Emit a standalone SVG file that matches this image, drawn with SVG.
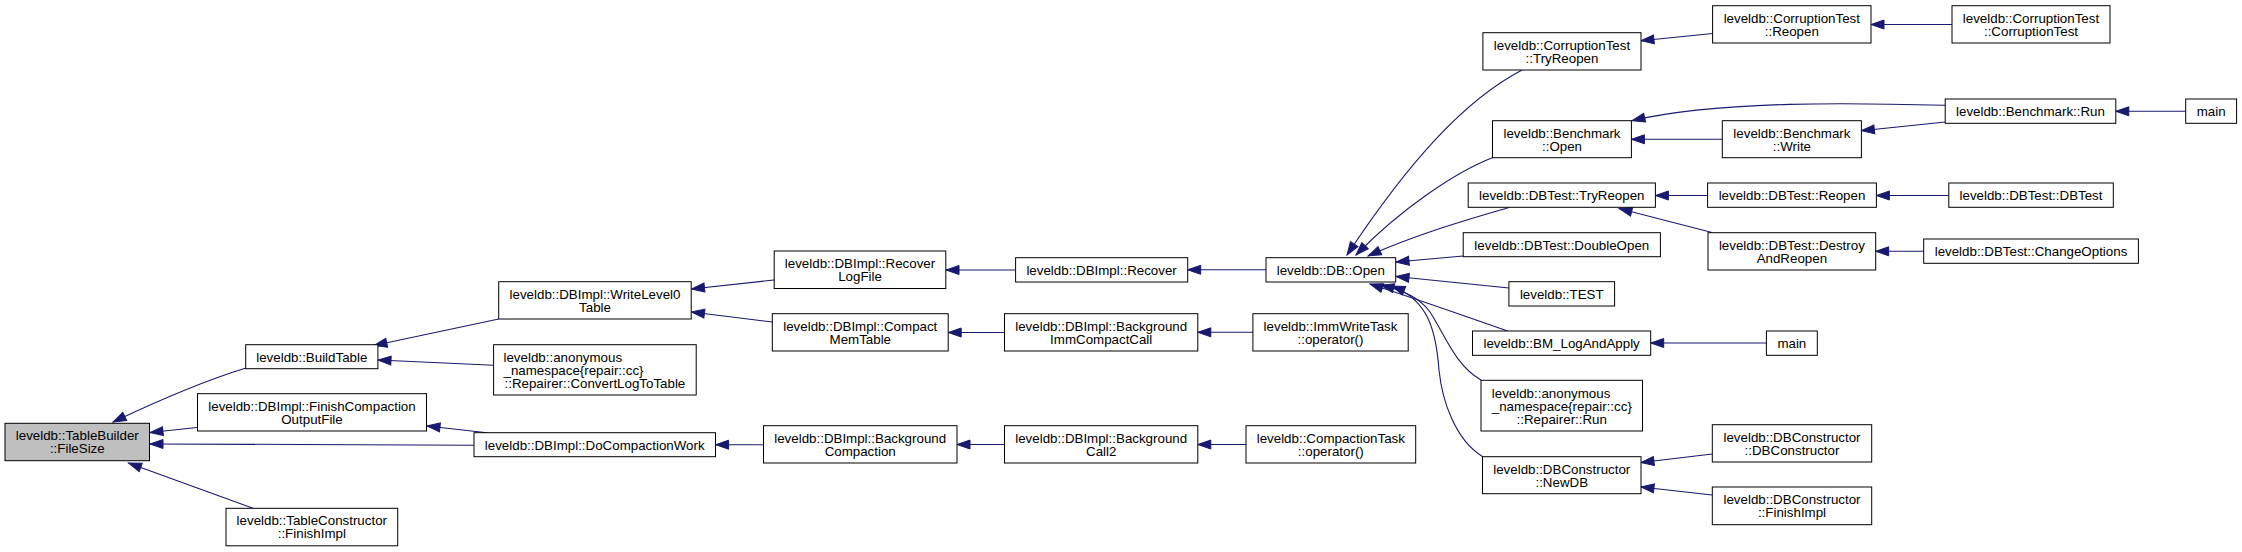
<svg xmlns="http://www.w3.org/2000/svg" width="2242" height="552" viewBox="0 0 2242 552">
<style>
.n rect{fill:#fff;stroke:#000;stroke-width:1}
.n.root rect{fill:#bfbfbf}
text{font-family:"Liberation Sans",Arial,sans-serif;font-size:13.33px;fill:#000}
.c{text-anchor:middle}
.s{text-anchor:start}
#edges path{fill:none;stroke:#191970;stroke-width:1.1;marker-end:url(#ah)}
</style>
<defs>
<marker id="ah" markerUnits="userSpaceOnUse" markerWidth="14" markerHeight="10" refX="13" refY="4.5" orient="auto" overflow="visible">
<path d="M0,0 L13,4.5 L0,9 z" fill="#191970" stroke="#191970" stroke-width="1"/>
</marker>
</defs>
<rect width="2242" height="552" fill="#fff"/>
<g id="edges">
<path d="M246,368 C210,379 170,395 113,422"/>
<path d="M197,427.5 L150,432.5"/>
<path d="M474,445.3 C380,445 250,444 150,444"/>
<path d="M253,508.3 L128.5,463"/>
<path d="M498.7,319 L374,345.5"/>
<path d="M493.6,365.3 L378,360"/>
<path d="M487,432.7 L427,426"/>
<path d="M774,280 L691.5,289"/>
<path d="M772.3,322 L691.5,312"/>
<path d="M1015.6,270 L946,270"/>
<path d="M1004.5,332.5 L948.2,332.5"/>
<path d="M763.5,444.7 L715.6,444.7"/>
<path d="M1004.5,444.5 L957,444.5"/>
<path d="M1266,269.8 L1187.7,269.8"/>
<path d="M1253,332.3 L1197.8,332.3"/>
<path d="M1246,444.5 L1197.8,444.5"/>
<path d="M1522,70 C1465,100 1410,160 1347,255"/>
<path d="M1493,157.5 C1455,172 1400,210 1356,255"/>
<path d="M1509,207.5 C1470,219 1420,233 1368,256"/>
<path d="M1463.2,256 L1396,262"/>
<path d="M1509,288 L1396,276.5"/>
<path d="M1507.5,331 C1470,318 1420,300 1370,284"/>
<path d="M1481,380 C1455,365 1445,335 1430,312 C1420,298 1405,291 1381,285"/>
<path d="M1482.7,456.7 C1455,440 1442,400 1439,370 C1436,330 1428,300 1392,286"/>
<path d="M1712.6,33.5 L1641,40.7"/>
<path d="M1952,24.5 L1871,24.5"/>
<path d="M1945,105.3 C1860,103 1720,100 1632,120.7"/>
<path d="M1722.3,139.3 L1631.4,139.3"/>
<path d="M1945.2,122 L1861.4,130.7"/>
<path d="M2185.7,111.3 L2115.8,111.3"/>
<path d="M1707.6,195.5 L1655.4,195.5"/>
<path d="M1712,232.5 L1619,208.5"/>
<path d="M1948.8,195.5 L1876.4,195.5"/>
<path d="M1923.7,251.3 L1875.7,251.3"/>
<path d="M1766.4,343 L1650.7,343"/>
<path d="M1712.3,454 L1641,462.5"/>
<path d="M1712.3,495 L1641,487"/>
</g>
<g id="n0" class="n root"><rect x="5" y="423.3" width="144.5" height="37.4"/><text class="c" x="77.3" y="440.3">leveldb::TableBuilder</text><text class="c" x="77.3" y="453.3">::FileSize</text></g>
<g id="n1" class="n"><rect x="245.7" y="344.7" width="132.2" height="24"/><text class="c" x="311.8" y="361.5">leveldb::BuildTable</text></g>
<g id="n2" class="n"><rect x="197.5" y="393.7" width="229" height="37.3"/><text class="c" x="312" y="410.6">leveldb::DBImpl::FinishCompaction</text><text class="c" x="312" y="423.6">OutputFile</text></g>
<g id="n3" class="n"><rect x="226" y="508.3" width="171.7" height="37.5"/><text class="c" x="311.8" y="525.3">leveldb::TableConstructor</text><text class="c" x="311.8" y="538.3">::FinishImpl</text></g>
<g id="n4" class="n"><rect x="498.7" y="281.7" width="192.5" height="37.3"/><text class="c" x="595" y="298.6">leveldb::DBImpl::WriteLevel0</text><text class="c" x="595" y="311.6">Table</text></g>
<g id="n5" class="n"><rect x="493.6" y="344.7" width="202.6" height="50.3"/><text class="s" x="503.5" y="361.6">leveldb::anonymous</text><text class="s" x="503.5" y="374.6">_namespace{repair::cc}</text><text class="c" x="594.9" y="387.6">::Repairer::ConvertLogToTable</text></g>
<g id="n6" class="n"><rect x="474" y="432.7" width="241.5" height="24"/><text class="c" x="594.7" y="449.5">leveldb::DBImpl::DoCompactionWork</text></g>
<g id="n7" class="n"><rect x="774.2" y="251" width="171.6" height="37.5"/><text class="c" x="860" y="268">leveldb::DBImpl::Recover</text><text class="c" x="860" y="281">LogFile</text></g>
<g id="n8" class="n"><rect x="772.3" y="313.7" width="175.9" height="37.3"/><text class="c" x="860.3" y="330.6">leveldb::DBImpl::Compact</text><text class="c" x="860.3" y="343.6">MemTable</text></g>
<g id="n9" class="n"><rect x="763.5" y="425.7" width="193.5" height="37.3"/><text class="c" x="860.2" y="442.6">leveldb::DBImpl::Background</text><text class="c" x="860.2" y="455.6">Compaction</text></g>
<g id="n10" class="n"><rect x="1015.6" y="257.7" width="172.1" height="24.3"/><text class="c" x="1101.6" y="274.6">leveldb::DBImpl::Recover</text></g>
<g id="n11" class="n"><rect x="1004.5" y="313.7" width="193.3" height="37.3"/><text class="c" x="1101.2" y="330.6">leveldb::DBImpl::Background</text><text class="c" x="1101.2" y="343.6">ImmCompactCall</text></g>
<g id="n12" class="n"><rect x="1004.5" y="425.7" width="193.3" height="37.3"/><text class="c" x="1101.2" y="442.6">leveldb::DBImpl::Background</text><text class="c" x="1101.2" y="455.6">Call2</text></g>
<g id="n13" class="n"><rect x="1266" y="257.7" width="129.7" height="24.3"/><text class="c" x="1330.8" y="274.6">leveldb::DB::Open</text></g>
<g id="n14" class="n"><rect x="1252.9" y="313.7" width="155.3" height="37.3"/><text class="c" x="1330.5" y="330.6">leveldb::ImmWriteTask</text><text class="c" x="1330.5" y="343.6">::operator()</text></g>
<g id="n15" class="n"><rect x="1246" y="425.7" width="169.7" height="37.3"/><text class="c" x="1330.8" y="442.6">leveldb::CompactionTask</text><text class="c" x="1330.8" y="455.6">::operator()</text></g>
<g id="n16" class="n"><rect x="1482.9" y="32.7" width="158.1" height="37.3"/><text class="c" x="1562" y="49.6">leveldb::CorruptionTest</text><text class="c" x="1562" y="62.6">::TryReopen</text></g>
<g id="n17" class="n"><rect x="1492.5" y="120.7" width="138.9" height="37"/><text class="c" x="1562" y="137.5">leveldb::Benchmark</text><text class="c" x="1562" y="150.5">::Open</text></g>
<g id="n18" class="n"><rect x="1468.2" y="183" width="187.2" height="24.3"/><text class="c" x="1561.8" y="200">leveldb::DBTest::TryReopen</text></g>
<g id="n19" class="n"><rect x="1463.2" y="232.7" width="197.2" height="24"/><text class="c" x="1561.8" y="249.5">leveldb::DBTest::DoubleOpen</text></g>
<g id="n20" class="n"><rect x="1508.9" y="281.7" width="105.7" height="24.3"/><text class="c" x="1561.75" y="298.6">leveldb::TEST</text></g>
<g id="n21" class="n"><rect x="1472.5" y="331" width="178.2" height="24.3"/><text class="c" x="1561.6" y="348">leveldb::BM_LogAndApply</text></g>
<g id="n22" class="n"><rect x="1481" y="380.3" width="161.5" height="50.7"/><text class="s" x="1491.8" y="397.5">leveldb::anonymous</text><text class="s" x="1491.8" y="410.5">_namespace{repair::cc}</text><text class="c" x="1561.75" y="423.5">::Repairer::Run</text></g>
<g id="n23" class="n"><rect x="1482.5" y="456.7" width="158.5" height="37"/><text class="c" x="1561.75" y="473.5">leveldb::DBConstructor</text><text class="c" x="1561.75" y="486.5">::NewDB</text></g>
<g id="n24" class="n"><rect x="1712.6" y="5.7" width="158.4" height="37.3"/><text class="c" x="1791.8" y="22.6">leveldb::CorruptionTest</text><text class="c" x="1791.8" y="35.6">::Reopen</text></g>
<g id="n25" class="n"><rect x="1722.3" y="120.7" width="139.1" height="37"/><text class="c" x="1791.9" y="137.5">leveldb::Benchmark</text><text class="c" x="1791.9" y="150.5">::Write</text></g>
<g id="n26" class="n"><rect x="1707.6" y="183" width="168.8" height="24.3"/><text class="c" x="1792" y="200">leveldb::DBTest::Reopen</text></g>
<g id="n27" class="n"><rect x="1708" y="232.7" width="167.7" height="37.3"/><text class="c" x="1791.85" y="249.6">leveldb::DBTest::Destroy</text><text class="c" x="1791.85" y="262.6">AndReopen</text></g>
<g id="n28" class="n"><rect x="1712.3" y="424.7" width="159.4" height="37.3"/><text class="c" x="1792" y="441.6">leveldb::DBConstructor</text><text class="c" x="1792" y="454.6">::DBConstructor</text></g>
<g id="n29" class="n"><rect x="1712.3" y="487" width="159.4" height="37.7"/><text class="c" x="1792" y="504.1">leveldb::DBConstructor</text><text class="c" x="1792" y="517.1">::FinishImpl</text></g>
<g id="n30" class="n"><rect x="1766.4" y="331" width="50.9" height="24.3"/><text class="c" x="1791.85" y="348">main</text></g>
<g id="n31" class="n"><rect x="1952" y="5.7" width="158" height="37.3"/><text class="c" x="2031" y="22.6">leveldb::CorruptionTest</text><text class="c" x="2031" y="35.6">::CorruptionTest</text></g>
<g id="n32" class="n"><rect x="1945.2" y="99" width="170.6" height="24.3"/><text class="c" x="2030.5" y="116">leveldb::Benchmark::Run</text></g>
<g id="n33" class="n"><rect x="1948.8" y="183" width="164.5" height="24.3"/><text class="c" x="2031" y="200">leveldb::DBTest::DBTest</text></g>
<g id="n34" class="n"><rect x="1923.7" y="239" width="214.7" height="24.3"/><text class="c" x="2031" y="256">leveldb::DBTest::ChangeOptions</text></g>
<g id="n35" class="n"><rect x="2185.7" y="99" width="50.9" height="24.3"/><text class="c" x="2211.2" y="116">main</text></g>
</svg>
